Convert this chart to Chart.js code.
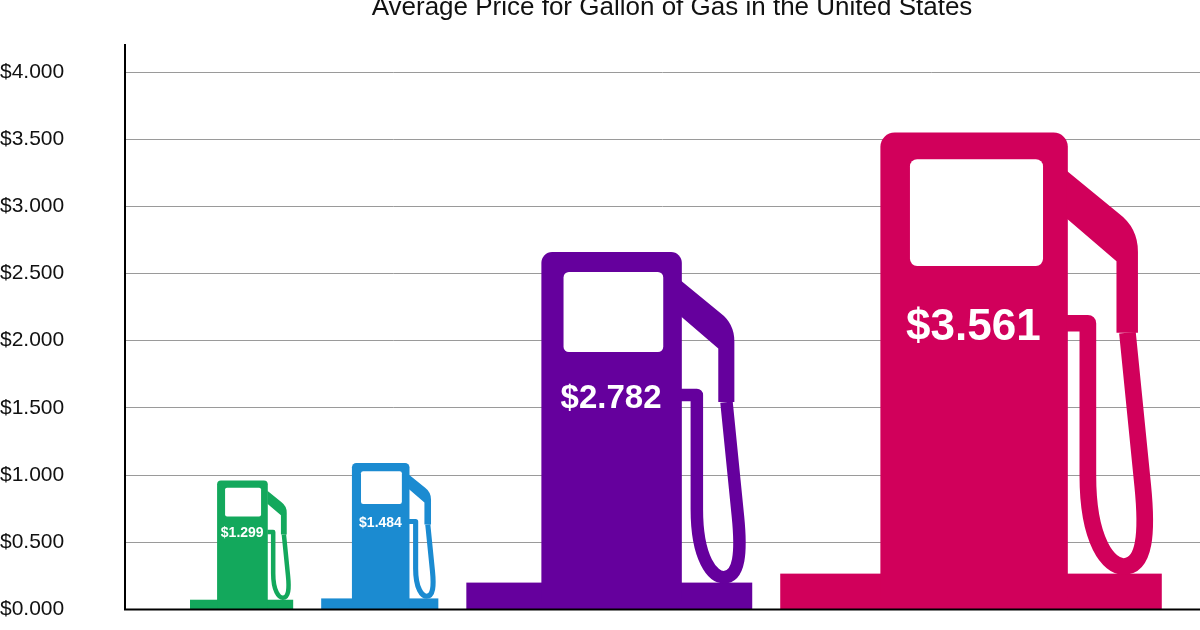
<!DOCTYPE html>
<html><head><meta charset="utf-8">
<script src="https://cdn.jsdelivr.net/npm/chart.js@4/dist/chart.umd.min.js"></script>
<style>html,body{margin:0;padding:0;background:#fff}#w{width:1200px;height:630px}</style>
</head><body><div id="w"><canvas id="c"></canvas></div>
<script>
const categories = ["Pump 1", "Pump 2", "Pump 3", "Pump 4"];
const prices = [1.299, 1.484, 2.782, 3.561];
const priceLabels = ["$1.299", "$1.484", "$2.782", "$3.561"];
// height of each pump icon, in price units
const iconHeights = [0.96, 1.09, 2.66, 3.55];
const pumpColors = ["#13a85c", "#1b8bd1", "#65009d", "#d1005b"];
const titleText = "Average Price for Gallon of Gas in the United States";

const pumpPlugin = {
  id: 'pumps',
  afterDatasetsDraw(chart) {
    const {ctx, chartArea: a, scales: {y}} = chart;
    const base = y.getPixelForValue(0);
    let x0 = a.left + 65;
    iconHeights.forEach((iv, i) => {
      const top = y.getPixelForValue(iv);
      const h = base - top;
      const W = 0.8 * h;
      const X = u => x0 + u * h;
      const Y = t => top + t * h;
      ctx.save();
      ctx.fillStyle = pumpColors[i];
      ctx.strokeStyle = pumpColors[i];
      ctx.fillRect(x0, base - 0.075 * h, W, 0.075 * h);
      ctx.beginPath();
      ctx.roundRect(X(0.21), top, 0.393 * h, h, 0.03 * h);
      ctx.fill();
      ctx.beginPath();
      ctx.moveTo(X(0.6), Y(0.08));
      ctx.lineTo(X(0.71), Y(0.17));
      ctx.quadraticCurveTo(X(0.75), Y(0.2), X(0.75), Y(0.25));
      ctx.lineTo(X(0.75), Y(0.42));
      ctx.lineTo(X(0.705), Y(0.42));
      ctx.lineTo(X(0.705), Y(0.27));
      ctx.lineTo(X(0.6), Y(0.18));
      ctx.closePath();
      ctx.fill();
      ctx.lineWidth = 0.035 * h;
      ctx.lineJoin = 'round';
      ctx.beginPath();
      ctx.moveTo(X(0.6), Y(0.40));
      ctx.lineTo(X(0.645), Y(0.40));
      ctx.lineTo(X(0.645), Y(0.72));
      ctx.bezierCurveTo(X(0.645), Y(0.86), X(0.69), Y(0.91), X(0.72), Y(0.91));
      ctx.bezierCurveTo(X(0.765), Y(0.91), X(0.77), Y(0.84), X(0.76), Y(0.74));
      ctx.lineTo(X(0.728), Y(0.42));
      ctx.stroke();
      ctx.fillStyle = '#fff';
      ctx.beginPath();
      ctx.roundRect(X(0.272), Y(0.056), 0.279 * h, 0.224 * h, 0.015 * h);
      ctx.fill();
      ctx.font = 'bold ' + Math.max(14, Math.round(0.092 * h)) + 'px "Liberation Sans", Arial, sans-serif';
      ctx.textAlign = 'center';
      ctx.textBaseline = 'middle';
      ctx.fillText(priceLabels[i], X(0.405), Y(0.41));
      ctx.restore();
      x0 += W + 28;
    });
    ctx.save();
    ctx.strokeStyle = '#000';
    ctx.lineWidth = 2;
    ctx.beginPath();
    ctx.moveTo(a.left, a.top - 28);
    ctx.lineTo(a.left, base);
    ctx.lineTo(a.right, base);
    ctx.stroke();
    ctx.fillStyle = '#111';
    ctx.font = '26px "Liberation Sans", Arial, sans-serif';
    ctx.textAlign = 'center';
    ctx.textBaseline = 'middle';
    ctx.fillText(titleText, 672, 8);
    ctx.restore();
  }
};

new Chart(document.getElementById('c'), {
  type: 'bar',
  data: { labels: categories, datasets: [{ data: prices, backgroundColor: 'rgba(0,0,0,0)' }] },
  options: {
    responsive: true, maintainAspectRatio: false, animation: false,
    layout: { padding: { top: 72, bottom: 10, right: 0, left: 0 } },
    plugins: { legend: { display: false }, tooltip: { enabled: false } },
    scales: {
      x: { display: false },
      y: {
        min: 0, max: 4,
        afterFit: s => { s.width = 125; },
        border: { display: false },
        grid: { color: '#9a9a9a', lineWidth: 1, drawTicks: false },
        ticks: {
          stepSize: 0.5, padding: 8, color: '#111', crossAlign: 'far',
          font: { size: 21, family: '"Liberation Sans", Arial, sans-serif' },
          callback: v => '$' + Number(v).toFixed(3)
        }
      }
    }
  },
  plugins: [pumpPlugin]
});
</script></body></html>
